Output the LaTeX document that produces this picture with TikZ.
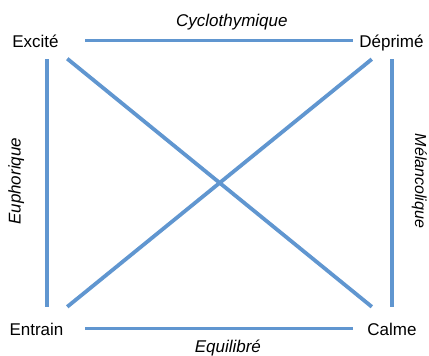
\documentclass[tikz,border=0pt]{standalone}
\usepackage{fontspec}
\setmainfont{Liberation Sans}
\usepackage{tikz}
\definecolor{bleu}{RGB}{96,150,208}
\tikzset{
  lien/.style={draw=bleu,line width=3.8pt},
  coin/.style={inner sep=0pt,anchor=base,text height=17pt,text depth=4pt,font=\fontsize{17}{20}\selectfont},
  etiq/.style={inner sep=0pt,font=\fontsize{17}{20}\selectfont\itshape}
}

\begin{document}
\begin{tikzpicture}[x=1pt,y=1pt]
\useasboundingbox (0,0) rectangle (429,-356);
\node[coin] (ex) at (35.5,-47){Excité};
\node[coin] (de) at (391.5,-47){Déprimé};
\node[coin] (en) at (36.5,-335){Entrain};
\node[coin] (ca) at (392,-335){Calme};
\draw[lien,shorten <=26.4pt,shorten >=6.4pt] (ex.east) -- (de.west)
  node[etiq,pos=.576,above=9pt]{Cyclothymique};
\draw[lien,shorten <=21.6pt,shorten >=14.4pt] (en.east) -- (ca.west)
  node[etiq,pos=.541,below=9.5pt]{Equilibré};
\draw[lien,shorten <=11pt,shorten >=7.5pt] ([xshift=10.5pt]en.north) -- ([xshift=11.5pt]ex.south)
  node[etiq,pos=.512,sloped,above=21pt]{Euphorique};
\draw[lien,shorten <=8pt,shorten >=11pt] ([xshift=.5pt]de.south) -- (ca.north)
  node[etiq,pos=.487,sloped,above=18pt,font=\fontsize{16}{19}\selectfont\itshape]{Mélancolique};
\draw[lien] ([shift={(8.4,-7.5)}]ex.south east) -- ([shift={(4.6,11)}]ca.north west);
\draw[lien] ([shift={(3.6,11)}]en.north east) -- ([shift={(12.6,-8)}]de.south west);
\end{tikzpicture}
\end{document}
